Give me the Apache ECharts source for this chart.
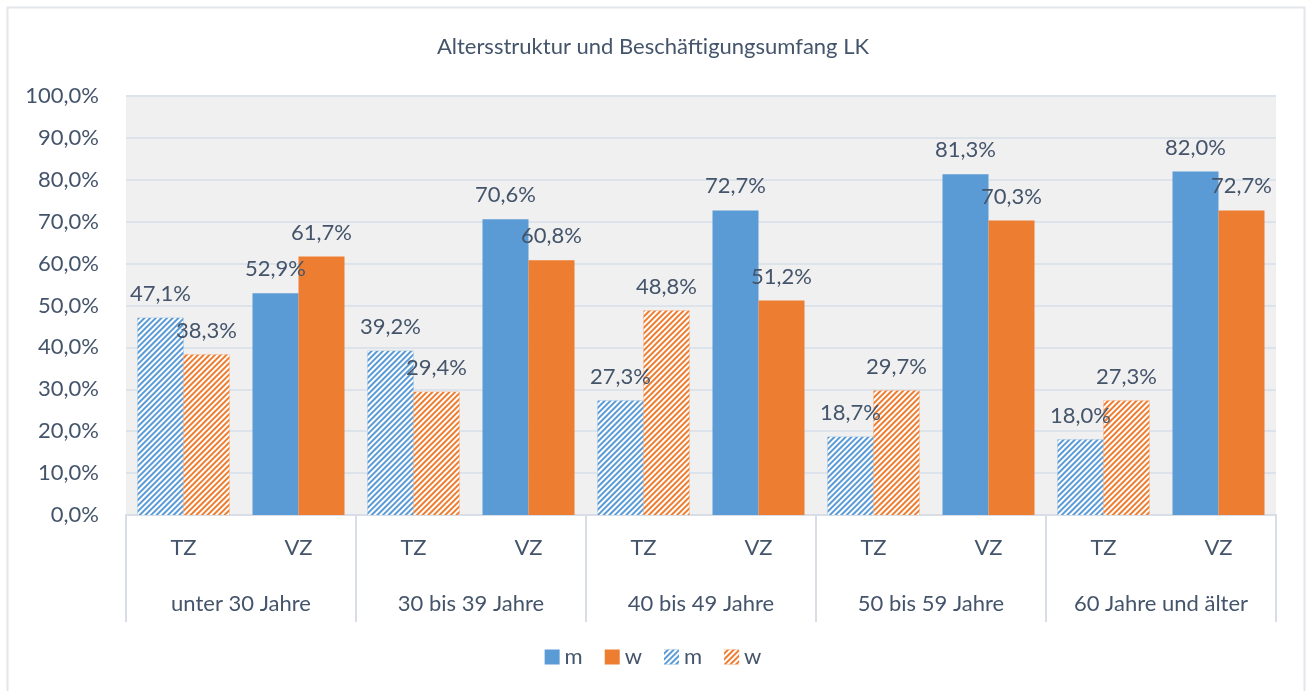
<!DOCTYPE html>
<html>
<head>
<meta charset="utf-8">
<script src="https://cdn.jsdelivr.net/npm/echarts@6/dist/echarts.min.js"></script>
<style>
  html, body { margin: 0; padding: 0; background: #fff; }
  #chart { width: 1306px; height: 691px; }
</style>
</head>
<body>
<div id="chart"></div>
<script>
// Beschäftigungsumfang je Altersgruppe (TZ = Teilzeit, VZ = Vollzeit)
var groups = ['unter 30 Jahre', '30 bis 39 Jahre', '40 bis 49 Jahre', '50 bis 59 Jahre', '60 Jahre und älter'];
var kinds = ['TZ', 'VZ', 'TZ', 'VZ', 'TZ', 'VZ', 'TZ', 'VZ', 'TZ', 'VZ'];
// Vollzeit (solid) — nur auf VZ-Kategorien
var vzM = ['-', 52.9, '-', 70.6, '-', 72.7, '-', 81.3, '-', 82.0];
var vzW = ['-', 61.7, '-', 60.8, '-', 51.2, '-', 70.3, '-', 72.7];
// Teilzeit (schraffiert) — nur auf TZ-Kategorien
var tzM = [47.1, '-', 39.2, '-', 27.3, '-', 18.7, '-', 18.0, '-'];
var tzW = [38.3, '-', 29.4, '-', 48.8, '-', 29.7, '-', 27.3, '-'];

var txt = '#44546a';
var font = 'Lato';
var blue = '#5b9bd5';
var orange = '#ed7d31';

function pct(v) {
  return Number(v).toFixed(1).replace('.', ',') + '%';
}

var hatch = {
  symbol: 'rect',
  symbolSize: 1,
  dashArrayX: [1, 0],
  dashArrayY: [2, 1.6],
  rotation: -Math.PI / 4,
  color: '#ffffff'
};

var label = {
  show: true,
  position: 'top',
  distance: 13,
  color: txt,
  fontFamily: font,
  fontSize: 22,
  formatter: function (p) { return pct(p.value); }
};

function bar(name, data, color, stack, decal) {
  return {
    name: name,
    type: 'bar',
    stack: stack,
    data: data,
    barGap: 0,
    barCategoryGap: '20%',
    itemStyle: decal ? { color: color, decal: decal } : { color: color },
    label: label
  };
}

var chart = echarts.init(document.getElementById('chart'));
chart.setOption({
  animation: false,
  backgroundColor: '#fff',
  textStyle: { fontFamily: font },
  title: {
    text: 'Altersstruktur und Beschäftigungsumfang LK',
    left: 'center',
    top: 31,
    textStyle: { color: txt, fontFamily: font, fontSize: 22, fontWeight: 'normal' }
  },
  graphic: [{
    type: 'rect',
    shape: { x: 7.5, y: 7.5, width: 1297, height: 700 },
    style: { fill: 'none', stroke: '#e3e6ea', lineWidth: 2 },
    silent: true
  }],
  legend: {
    bottom: 18,
    left: 'center',
    itemWidth: 15,
    itemHeight: 15,
    itemGap: 22,
    icon: 'rect',
    textStyle: { color: txt, fontSize: 22, fontFamily: font },
    formatter: function (n) { return n.trim(); },
    data: ['m', 'w', 'm ', 'w ']
  },
  grid: {
    left: 126, right: 30, top: 96, bottom: 176,
    show: true, backgroundColor: '#f0f0f0', borderWidth: 0
  },
  xAxis: [{
    type: 'category',
    data: kinds,
    axisLine: { show: true, lineStyle: { color: '#d9dee6', width: 2 } },
    axisTick: { show: false },
    axisLabel: { color: txt, fontSize: 22, fontFamily: font, margin: 22 }
  }, {
    type: 'category',
    data: groups,
    position: 'bottom',
    axisLine: { show: false },
    axisTick: { show: true, length: 107, lineStyle: { color: '#d9dee6', width: 2 } },
    axisLabel: { color: txt, fontSize: 22, fontFamily: font, margin: 78 }
  }],
  yAxis: {
    type: 'value',
    min: 0, max: 100, interval: 10,
    axisLine: { show: false },
    axisTick: { show: false },
    splitLine: { lineStyle: { color: '#dce3ea', width: 2 } },
    axisLabel: { color: txt, fontSize: 22, fontFamily: font, margin: 27, formatter: pct }
  },
  series: [
    bar('m', vzM, blue, 'm'),
    bar('w', vzW, orange, 'w'),
    bar('m ', tzM, blue, 'm', hatch),
    bar('w ', tzW, orange, 'w', hatch)
  ]
});
</script>
</body>
</html>
